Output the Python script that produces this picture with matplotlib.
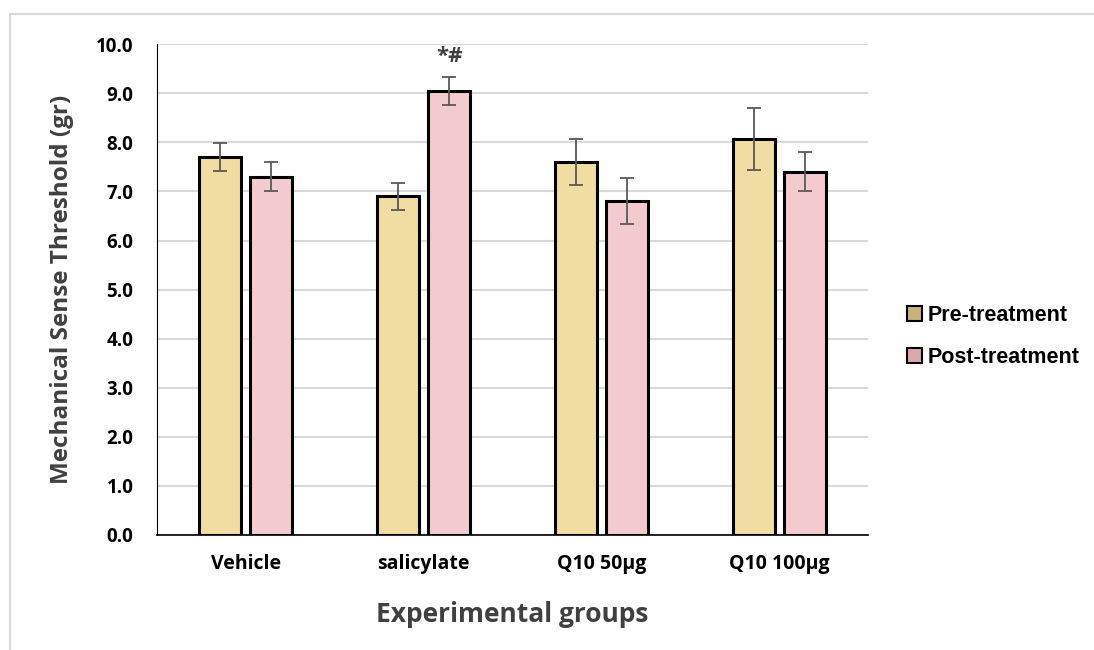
import matplotlib.pyplot as plt
from matplotlib.patches import Rectangle, Patch
import numpy as np

groups = ['Vehicle', 'salicylate', 'Q10 50µg', 'Q10 100µg']
pre_vals = [7.7, 6.9, 7.6, 8.07]
pre_err = [0.28, 0.27, 0.47, 0.64]
post_vals = [7.3, 9.05, 6.8, 7.4]
post_err = [0.3, 0.29, 0.47, 0.4]
series_names = ['Pre-treatment', 'Post-treatment']
yticks = np.arange(0, 10.5, 1.0)
sig_label = '*#'

pre_color = '#f1dca2'
post_color = '#f3cbce'

fig = plt.figure(figsize=(10.94, 6.5), dpi=100)
# faint frame around the chart area
fig.patches.append(Rectangle((0.009, -0.05), 1.05, 1.028, transform=fig.transFigure,
                             fill=False, edgecolor='#d9d9d9', linewidth=1.5))
ax = fig.add_axes([0.1435, 0.177, 0.65, 0.755])

x = np.arange(len(groups))
w = 0.236
off = 0.143
err_kw = dict(ecolor='#595959', elinewidth=1.3, capsize=5, capthick=1.3)
ax.bar(x - off, pre_vals, w, yerr=pre_err, color=pre_color, edgecolor='black',
       linewidth=2.2, error_kw=err_kw, zorder=3, label=series_names[0])
ax.bar(x + off, post_vals, w, yerr=post_err, color=post_color, edgecolor='black',
       linewidth=2.2, error_kw=err_kw, zorder=3, label=series_names[1])

ax.text(x[1] + off, post_vals[1] + post_err[1] + 0.2, sig_label, ha='center', va='bottom',
        fontsize=16, fontweight='bold', color='#404040', family='Open Sans')

ax.set_xlim(-0.5, len(groups) - 0.5)
ax.set_ylim(0, 10)
ax.set_yticks(yticks)
ax.set_yticklabels([f'{v:.1f}' for v in yticks], fontsize=13.5, fontweight='bold',
                   family='Open Sans')
ax.set_xticks(x)
ax.set_xticklabels(groups, fontsize=14, fontweight='bold', family='Open Sans')
ax.tick_params(axis='y', length=0, pad=17)
ax.tick_params(axis='x', length=0, pad=14)
ax.grid(axis='y', color='#d9d9d9', linewidth=1.5, zorder=0)
for s in ['top', 'right']:
    ax.spines[s].set_visible(False)
ax.spines['left'].set_color('black')
ax.spines['bottom'].set_color('black')
ax.spines['bottom'].set_linewidth(1.2)

ax.set_ylabel('Mechanical Sense Threshold (gr)', fontsize=17.5, fontweight='bold',
              color='#404040', family='Open Sans')
ax.yaxis.set_label_coords(-0.117, 0.5)
ax.set_xlabel('Experimental groups', fontsize=19, fontweight='bold',
              color='#404040', family='Open Sans')
ax.xaxis.set_label_coords(0.5, -0.135)

handles = [Patch(facecolor='#c8b27a', edgecolor='black', linewidth=1.5),
           Patch(facecolor='#d9a9ac', edgecolor='black', linewidth=1.5)]
fig.legend(handles, series_names, loc='center left', bbox_to_anchor=(0.829, 0.482),
           frameon=False, prop={'family': 'Liberation Sans', 'weight': 'bold', 'size': 15.5},
           handlelength=0.7, handleheight=0.7, handletextpad=0.25, labelspacing=0.95,
           borderpad=0, borderaxespad=0)

plt.savefig('out.png', dpi=100)
